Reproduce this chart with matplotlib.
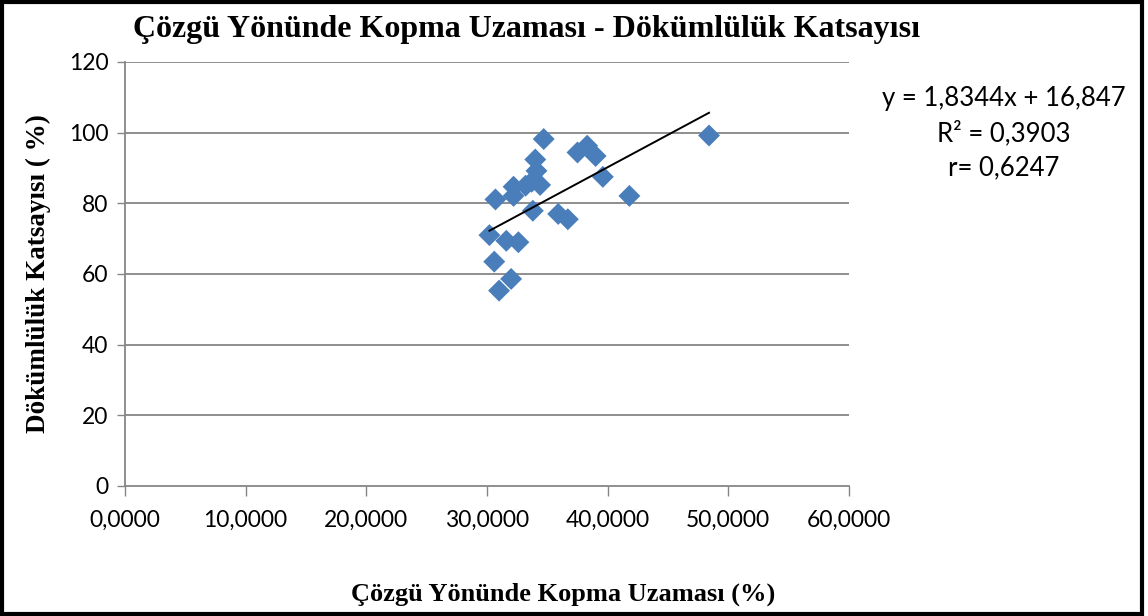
import numpy as np
import matplotlib.pyplot as plt
from matplotlib.patches import Rectangle

# Warp breaking elongation (%) vs drape coefficient (%)
kopma_uzamasi = [34.7, 48.4, 37.5, 38.3, 39.0, 34.0, 34.1, 32.2, 33.2, 33.7,
                 34.4, 39.6, 30.7, 32.2, 41.8, 33.8, 35.9, 36.7, 30.2, 31.6,
                 32.6, 30.6, 32.0, 31.0]
dokumluluk = [98.2, 99.2, 94.4, 96.3, 93.4, 92.4, 89.2, 84.7, 85.0, 86.1,
              85.2, 87.5, 81.1, 82.1, 82.1, 77.9, 77.0, 75.5, 71.0, 69.4,
              69.0, 63.5, 58.6, 55.3]

egim, kesisim = 1.8344, 16.847
x_ticks = [0, 10, 20, 30, 40, 50, 60]
y_ticks = [0, 20, 40, 60, 80, 100, 120]

serif = ["Liberation Serif", "DejaVu Serif"]
sans = ["Lato", "DejaVu Sans"]

fig = plt.figure(figsize=(11.48, 6.16), dpi=100)
ax = fig.add_axes([125 / 1148, 1 - 486 / 616, 724 / 1148, 424 / 616])

for yv in y_ticks[1:]:
    ax.axhline(yv, color="#868686", lw=1.3, zorder=1)

ax.scatter(kopma_uzamasi, dokumluluk, marker="D", s=125, color="#4A7EBB",
           edgecolors="none", zorder=3)

xs = np.array([min(kopma_uzamasi), max(kopma_uzamasi)])
ax.plot(xs, egim * xs + kesisim, color="black", lw=1.4, zorder=4)

ax.set_xlim(0, 60)
ax.set_ylim(0, 120)
ax.set_xticks(x_ticks)
ax.set_xticklabels([f"{v},0000" for v in x_ticks], fontsize=16.5, family=sans)
ax.set_yticks(y_ticks)
ax.set_yticklabels([str(v) for v in y_ticks], fontsize=16.5, family=sans)
ax.tick_params(axis="x", length=7, width=1, color="#868686", pad=10)
ax.tick_params(axis="y", length=6, width=1, color="#868686", pad=6)

for side in ["top", "right"]:
    ax.spines[side].set_visible(False)
for side in ["left", "bottom"]:
    ax.spines[side].set_color("#868686")
    ax.spines[side].set_linewidth(1.3)

fig.text(527 / 1148, 1 - 30 / 616, "Çözgü Yönünde Kopma Uzaması - Dökümlülük Katsayısı",
         ha="center", va="center", fontsize=23, fontweight="bold", family=serif)
fig.text(563 / 1148, 1 - 594 / 616, "Çözgü Yönünde Kopma Uzaması (%)",
         ha="center", va="center", fontsize=19, fontweight="bold", family=serif)
fig.text(38 / 1148, 1 - 274 / 616, "Dökümlülük Katsayısı ( %)",
         ha="center", va="center", rotation=90, fontsize=19.5, fontweight="bold",
         family=serif)

fig.text(1004 / 1148, 1 - 133 / 616,
         "y = 1,8344x + 16,847\nR² = 0,3903\nr= 0,6247",
         ha="center", va="center", fontsize=18.5, family=sans, linespacing=1.45)

fig.add_artist(Rectangle((2 / 1148, 2 / 616), 1140 / 1148, 612 / 616,
                         transform=fig.transFigure, fill=False,
                         edgecolor="black", lw=3))

fig.savefig("out.png", dpi=100)
